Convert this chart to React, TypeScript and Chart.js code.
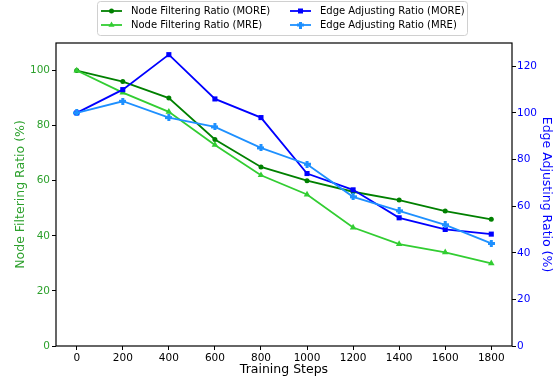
import React, { useEffect, useRef } from 'react';
import { Chart, registerables } from 'chart.js';

Chart.register(...registerables);

const steps = [0, 200, 400, 600, 800, 1000, 1200, 1400, 1600, 1800];
const nodeMore = [100, 96, 90, 75, 65, 60, 56, 53, 49, 46];
const nodeMre = [100, 92, 85, 73, 62, 55, 43, 37, 34, 30];
const edgeMore = [100, 110, 125, 106, 98, 74, 67, 55, 50, 48];
const edgeMre = [100, 105, 98, 94, 85, 78, 64, 58, 52, 44];
const leftTicks = [0, 20, 40, 60, 80, 100];
const rightTicks = [0, 20, 40, 60, 80, 100, 120];
const seriesNames = [
  'Node Filtering Ratio (MORE)',
  'Node Filtering Ratio (MRE)',
  'Edge Adjusting Ratio (MORE)',
  'Edge Adjusting Ratio (MRE)',
];
const xTitle = 'Training Steps';
const leftTitle = 'Node Filtering Ratio (%)';
const rightTitle = 'Edge Adjusting Ratio (%)';

const C_NODE_MORE = '#008000';
const C_NODE_MRE = '#32cd32';
const C_EDGE_MORE = '#0000ff';
const C_EDGE_MRE = '#1e90ff';
const C_LEFT_AXIS = '#2ca02c';
const C_RIGHT_AXIS = '#0000ff';
const FONT = '"DejaVu Sans", sans-serif';

function makePlus(color: string, size: number) {
  const c = document.createElement('canvas');
  c.width = size;
  c.height = size;
  const ctx = c.getContext('2d')!;
  ctx.fillStyle = color;
  const t = Math.round(size * 0.38);
  const o = (size - t) / 2;
  ctx.fillRect(o, 0, t, size);
  ctx.fillRect(0, o, size, t);
  return c;
}

function drawMarker(ctx: CanvasRenderingContext2D, kind: string, x: number, y: number, color: string, plus: HTMLCanvasElement) {
  ctx.fillStyle = color;
  ctx.strokeStyle = color;
  if (kind === 'circle') {
    ctx.beginPath();
    ctx.arc(x, y, 2.5, 0, Math.PI * 2);
    ctx.fill();
  } else if (kind === 'triangle') {
    const r = 3.5;
    ctx.beginPath();
    ctx.moveTo(x, y - r);
    ctx.lineTo(x + r * 0.866, y + r * 0.5);
    ctx.lineTo(x - r * 0.866, y + r * 0.5);
    ctx.closePath();
    ctx.fill();
  } else if (kind === 'rect') {
    ctx.fillRect(x - 2.5, y - 2.5, 5, 5);
  } else {
    ctx.drawImage(plus, x - plus.width / 2, y - plus.height / 2);
  }
}

export default function App() {
  const ref = useRef<HTMLCanvasElement | null>(null);

  useEffect(() => {
    if (!ref.current) return;
    const plus = makePlus(C_EDGE_MRE, 7);
    const toPts = (arr: number[]) => arr.map((v, i) => ({ x: steps[i], y: v }));

    const styles = [
      { color: C_NODE_MORE, kind: 'circle' },
      { color: C_NODE_MRE, kind: 'triangle' },
      { color: C_EDGE_MORE, kind: 'rect' },
      { color: C_EDGE_MRE, kind: 'plus' },
    ];

    const framePlugin = {
      id: 'frame',
      afterDatasetsDraw(chart: any) {
        const { ctx, chartArea: a } = chart;
        ctx.save();
        ctx.strokeStyle = '#000';
        ctx.lineWidth = 1.2;
        ctx.strokeRect(a.left, a.top, a.right - a.left, a.bottom - a.top);
        ctx.restore();
      },
      afterDraw(chart: any) {
        const ctx: CanvasRenderingContext2D = chart.ctx;
        ctx.save();
        const bx = 97.5, by = 1.5, bw = 370, bh = 34, r = 3;
        ctx.beginPath();
        ctx.moveTo(bx + r, by);
        ctx.lineTo(bx + bw - r, by);
        ctx.quadraticCurveTo(bx + bw, by, bx + bw, by + r);
        ctx.lineTo(bx + bw, by + bh - r);
        ctx.quadraticCurveTo(bx + bw, by + bh, bx + bw - r, by + bh);
        ctx.lineTo(bx + r, by + bh);
        ctx.quadraticCurveTo(bx, by + bh, bx, by + bh - r);
        ctx.lineTo(bx, by + r);
        ctx.quadraticCurveTo(bx, by, bx + r, by);
        ctx.closePath();
        ctx.fillStyle = 'rgba(255,255,255,0.8)';
        ctx.fill();
        ctx.strokeStyle = '#d0d0d0';
        ctx.lineWidth = 1;
        ctx.stroke();

        const pos = [
          [101, 11],
          [101, 25],
          [290, 11],
          [290, 25],
        ];
        ctx.font = '10px ' + FONT;
        ctx.textBaseline = 'middle';
        ctx.textAlign = 'left';
        for (let i = 0; i < 4; i++) {
          const [x, y] = pos[i];
          const s = styles[i];
          ctx.strokeStyle = s.color;
          ctx.lineWidth = 1.8;
          ctx.beginPath();
          ctx.moveTo(x, y);
          ctx.lineTo(x + 21, y);
          ctx.stroke();
          drawMarker(ctx, s.kind, x + 10.5, y, s.color, plus);
          ctx.fillStyle = '#000';
          ctx.fillText(seriesNames[i], x + 30, y + 0.5);
        }
        ctx.restore();
      },
    };

    const mk = (i: number, data: number[], axis: string, order: number) => {
      const s = styles[i];
      return {
        label: seriesNames[i],
        data: toPts(data),
        yAxisID: axis,
        borderColor: s.color,
        backgroundColor: s.color,
        borderWidth: 1.8,
        pointStyle: s.kind === 'plus' ? plus : s.kind,
        pointRadius: s.kind === 'circle' ? 2.5 : s.kind === 'rect' ? 3.6 : 3.8,
        pointBorderWidth: 0,
        pointBackgroundColor: s.color,
        tension: 0,
        order,
      };
    };

    const plain = (v: any) => String(v);

    const chart = new Chart(ref.current, {
      type: 'line',
      data: {
        datasets: [
          mk(0, nodeMore, 'y', 3),
          mk(1, nodeMre, 'y', 2),
          mk(2, edgeMore, 'y2', 1),
          mk(3, edgeMre, 'y2', 0),
        ] as any,
      },
      options: {
        animation: false,
        responsive: false,
        devicePixelRatio: 1,
        layout: { padding: { top: 43, left: 0, right: 0, bottom: 0 } },
        plugins: { legend: { display: false }, tooltip: { enabled: false } },
        scales: {
          x: {
            type: 'linear',
            min: -90,
            max: 1890,
            afterBuildTicks: (scale: any) => {
              scale.ticks = steps.map((v) => ({ value: v }));
            },
            afterFit: (scale: any) => {
              scale.height = 37;
            },
            grid: { drawOnChartArea: false, drawTicks: true, tickLength: 4, tickColor: '#000', tickWidth: 1 },
            border: { display: false },
            ticks: { color: '#000', font: { family: FONT, size: 10.5 }, padding: 2, maxRotation: 0, autoSkip: false, callback: plain },
            title: { display: true, text: xTitle, color: '#000', font: { family: FONT, size: 12.5 }, padding: { top: 0, bottom: 6 } },
          },
          y: {
            type: 'linear',
            position: 'left',
            min: 0,
            max: 110,
            afterBuildTicks: (scale: any) => {
              scale.ticks = leftTicks.map((v) => ({ value: v }));
            },
            afterFit: (scale: any) => {
              scale.width = 56;
            },
            grid: { drawOnChartArea: false, drawTicks: true, tickLength: 4, tickColor: '#000', tickWidth: 1 },
            border: { display: false },
            ticks: { color: C_LEFT_AXIS, font: { family: FONT, size: 10.5 }, padding: 2, callback: plain },
            title: { display: true, text: leftTitle, color: C_LEFT_AXIS, font: { family: FONT, size: 12.5 }, padding: { top: 13, bottom: 0 } },
          },
          y2: {
            type: 'linear',
            position: 'right',
            min: 0,
            max: 130,
            afterBuildTicks: (scale: any) => {
              scale.ticks = rightTicks.map((v) => ({ value: v }));
            },
            afterFit: (scale: any) => {
              scale.width = 46;
            },
            grid: { drawOnChartArea: false, drawTicks: true, tickLength: 4, tickColor: '#000', tickWidth: 1 },
            border: { display: false },
            ticks: { color: C_RIGHT_AXIS, font: { family: FONT, size: 10.5 }, padding: 1, callback: plain },
            title: { display: true, text: rightTitle, color: C_RIGHT_AXIS, font: { family: FONT, size: 12.5 }, padding: { top: 4, bottom: 0 } },
          },
        },
      } as any,
      plugins: [framePlugin],
    });
    return () => chart.destroy();
  }, []);

  return (
    <div style={{ position: 'absolute', left: 0, top: 0, width: 558, height: 383, background: '#fff' }}>
      <canvas ref={ref} width={558} height={383} style={{ width: 558, height: 383, display: 'block' }} />
    </div>
  );
}
